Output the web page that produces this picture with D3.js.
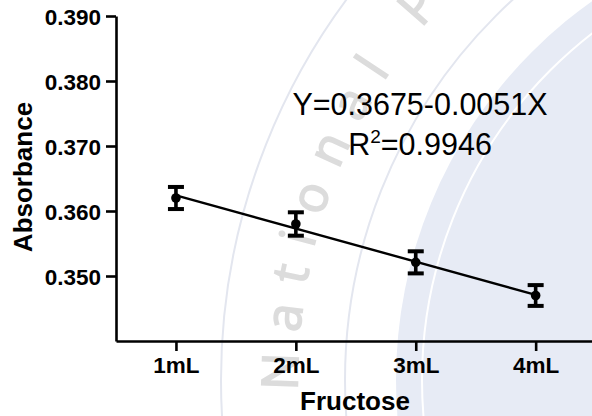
<!DOCTYPE html>
<html><head><meta charset="utf-8">
<script src="https://cdn.jsdelivr.net/npm/d3@7"></script>
<style>
html,body{margin:0;padding:0;background:#fff;}
svg{display:block;}
text{font-family:"Liberation Sans",Arial,sans-serif;}
</style></head><body>
<svg id="chart" width="592" height="416"></svg>
<script>
// Absorbance vs. fructose volume, mean ± SD with linear fit
const categories = ["1mL", "2mL", "3mL", "4mL"];
const doses = [1, 2, 3, 4];
const absorbance = [0.3620, 0.3580, 0.3521, 0.3470];
const sd = [0.0017, 0.0018, 0.0017, 0.0016];
const yTicks = [0.350, 0.360, 0.370, 0.380, 0.390];
const fitIntercept = 0.3675;
const fitSlope = -0.0051;
const fitR2 = 0.9946;

const W = 592, H = 416;
const svg = d3.select("#chart");

// ---- background seal (faint circles and arced lettering) ----
const seal = svg.append("g").attr("class", "seal");
const sc = {x: 860, y: 380};
seal.append("circle").attr("cx", sc.x).attr("cy", sc.y).attr("r", 464)
  .attr("fill", "#e7ebf5");
seal.append("circle").attr("cx", sc.x).attr("cy", sc.y).attr("r", 438)
  .attr("fill", "none").attr("stroke", "#ffffff").attr("stroke-width", 2);
seal.append("circle").attr("cx", sc.x).attr("cy", sc.y).attr("r", 515)
  .attr("fill", "none").attr("stroke", "#e3e6ef").attr("stroke-width", 2);
seal.append("circle").attr("cx", sc.x).attr("cy", sc.y).attr("r", 639)
  .attr("fill", "none").attr("stroke", "#e3e6ef").attr("stroke-width", 2);
const tr = 562;
const a0 = Math.PI * (178.5 / 180), a1 = Math.PI * 1.4;
const arcPath = `M${sc.x + tr * Math.cos(a0)},${sc.y + tr * Math.sin(a0)} A${tr},${tr} 0 0 1 ${sc.x + tr * Math.cos(a1)},${sc.y + tr * Math.sin(a1)}`;
seal.append("path").attr("id", "sealArc").attr("d", arcPath).attr("fill", "none");
seal.append("text")
  .style("font-family", "'Open Sans', 'DejaVu Sans', sans-serif")
  .style("font-size", "50px")
  .style("letter-spacing", "20px")
  .attr("fill", "#dcdcdc").attr("stroke", "#dcdcdc").attr("stroke-width", 1.6)
  .append("textPath").attr("href", "#sealArc").attr("startOffset", 4)
  .text("National P");

// ---- scales ----
const x = d3.scaleLinear().domain([0.5, 4.5]).range([116, 595.6]);
const y = d3.scaleLinear().domain([0.340, 0.390]).range([341, 16]);

// ---- axes ----
const yAxis = svg.append("g").attr("transform", "translate(116,0)")
  .call(d3.axisLeft(y).tickValues(yTicks).tickSize(10).tickSizeOuter(0)
    .tickFormat(d3.format(".3f")));
const xAxis = svg.append("g").attr("transform", "translate(0,341)")
  .call(d3.axisBottom(x).tickValues(doses).tickSize(10).tickSizeOuter(0)
    .tickFormat((d, i) => categories[i]));
[yAxis, xAxis].forEach(g => {
  g.select(".domain").attr("stroke", "#000").attr("stroke-width", 2.6);
  g.selectAll(".tick line").attr("stroke", "#000").attr("stroke-width", 2.6);
  g.selectAll(".tick text").attr("fill", "#000")
    .style("font-family", "'Liberation Sans', Arial, sans-serif")
    .style("font-weight", "bold").style("font-size", "22.5px");
});
yAxis.selectAll(".tick text").attr("x", -15).attr("dy", "0.36em");
xAxis.selectAll(".tick text").attr("y", 16).attr("dy", "0.72em");

svg.append("text").attr("transform", "translate(32,177) rotate(-90)")
  .attr("text-anchor", "middle").attr("fill", "#000")
  .style("font-weight", "bold").style("font-size", "26px").text("Absorbance");
svg.append("text").attr("x", 355).attr("y", 410)
  .attr("text-anchor", "middle").attr("fill", "#000")
  .style("font-weight", "bold").style("font-size", "26px").text("Fructose");

// ---- fitted line ----
const fitLine = d3.line().x(d => x(d)).y(d => y(fitIntercept + fitSlope * d));
svg.append("path").datum([doses[0], doses[doses.length - 1]])
  .attr("d", fitLine).attr("fill", "none").attr("stroke", "#000").attr("stroke-width", 2.4);

// ---- error bars and means ----
const pts = doses.map((d, i) => ({x: d, m: absorbance[i], s: sd[i]}));
const eb = svg.append("g").attr("stroke", "#000");
eb.selectAll("line.v").data(pts).join("line").attr("class", "v")
  .attr("x1", d => x(d.x)).attr("x2", d => x(d.x))
  .attr("y1", d => y(d.m + d.s)).attr("y2", d => y(d.m - d.s)).attr("stroke-width", 3.6);
eb.selectAll("line.top").data(pts).join("line").attr("class", "top")
  .attr("x1", d => x(d.x) - 8).attr("x2", d => x(d.x) + 8)
  .attr("y1", d => y(d.m + d.s)).attr("y2", d => y(d.m + d.s)).attr("stroke-width", 4);
eb.selectAll("line.bot").data(pts).join("line").attr("class", "bot")
  .attr("x1", d => x(d.x) - 8).attr("x2", d => x(d.x) + 8)
  .attr("y1", d => y(d.m - d.s)).attr("y2", d => y(d.m - d.s)).attr("stroke-width", 4);
svg.append("g").selectAll("circle").data(pts).join("circle")
  .attr("cx", d => x(d.x)).attr("cy", d => y(d.m)).attr("r", 4.8).attr("fill", "#000");

// ---- equation ----
svg.append("text").attr("x", 420).attr("y", 115).attr("text-anchor", "middle")
  .attr("fill", "#000").style("font-size", "30.5px")
  .text(`Y=${fitIntercept}-${d3.format(".4f")(-fitSlope)}X`);
const r2t = svg.append("text").attr("x", 420).attr("y", 155).attr("text-anchor", "middle")
  .attr("fill", "#000").style("font-size", "30.5px");
r2t.append("tspan").text("R");
r2t.append("tspan").attr("dy", -12).style("font-size", "19px").text("2");
r2t.append("tspan").attr("dy", 12).text(`=${fitR2}`);
</script>
</body></html>
